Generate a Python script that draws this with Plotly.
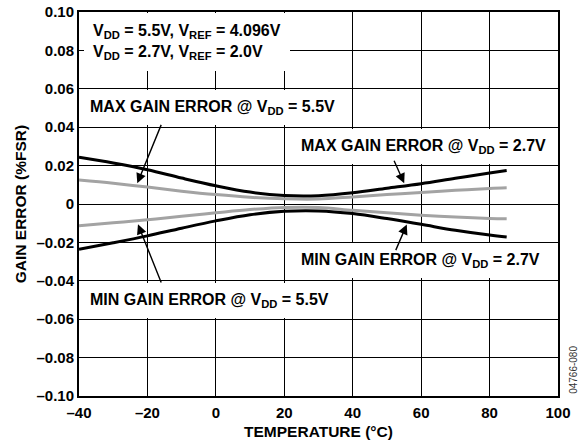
import plotly.graph_objects as go

# ---- data ----
temperature = [-40, -30, -20, -10, 0, 10, 20, 30, 40, 50, 60, 70, 80, 85]
max_err_2v7 = [0.0243, 0.0213, 0.0178, 0.0135, 0.0095, 0.0062, 0.0044, 0.0043,
               0.0058, 0.0082, 0.0106, 0.0134, 0.0161, 0.0174]
max_err_5v5 = [0.0125, 0.0108, 0.0088, 0.0067, 0.0049, 0.0035, 0.0027, 0.0026,
               0.0037, 0.0049, 0.0060, 0.0071, 0.0081, 0.0084]
min_err_5v5 = [-0.0113, -0.0098, -0.0082, -0.0064, -0.0046, -0.0029, -0.0018, -0.0018,
               -0.0033, -0.0046, -0.0058, -0.0068, -0.0075, -0.0077]
min_err_2v7 = [-0.0236, -0.0202, -0.0166, -0.0126, -0.0088, -0.0056, -0.0038, -0.0036,
               -0.0050, -0.0076, -0.0106, -0.0137, -0.0162, -0.0172]

x_tickvals = [-40, -20, 0, 20, 40, 60, 80, 100]
x_ticktext = ["–40", "–20", "0", "20", "40", "60", "80", "100"]
y_tickvals = [-0.10, -0.08, -0.06, -0.04, -0.02, 0, 0.02, 0.04, 0.06, 0.08, 0.10]
y_ticktext = ["–0.10", "–0.08", "–0.06", "–0.04", "–0.02", "0",
              "0.02", "0.04", "0.06", "0.08", "0.10"]

FONT = "Liberation Sans, Arial, Helvetica, sans-serif"
BLACK = "#000000"
GRAY = "#a3a3a3"

fig = go.Figure()
for ys, col in [(max_err_5v5, GRAY), (min_err_5v5, GRAY),
                (max_err_2v7, BLACK), (min_err_2v7, BLACK)]:
    fig.add_trace(go.Scatter(x=temperature, y=ys, mode="lines",
                             line=dict(color=col, width=3, shape="spline", smoothing=1),
                             showlegend=False, hoverinfo="skip"))

axis_common = dict(showline=True, mirror=True, linecolor=BLACK, linewidth=2,
                   showgrid=True, gridcolor=BLACK, gridwidth=1.2, zeroline=False,
                   automargin=False, ticks="",
                   tickfont=dict(family=FONT, size=15, color=BLACK, weight=700))

fig.update_xaxes(range=[-40, 100], tickvals=x_tickvals, ticktext=x_ticktext,
                 title=dict(text="TEMPERATURE (°C)", standoff=6,
                            font=dict(family=FONT, size=15.5, color=BLACK, weight=700)),
                 ticklabelstandoff=2,
                 **axis_common)
fig.update_yaxes(range=[-0.10, 0.10], tickvals=y_tickvals, ticktext=y_ticktext,
                 title=dict(text="GAIN ERROR (%FSR)", standoff=6,
                            font=dict(family=FONT, size=15.5, color=BLACK, weight=700)),
                 **axis_common)

ann_font = dict(family=FONT, size=16, color=BLACK, weight=700)
labels = [
    ("V<sub>DD</sub> = 5.5V, V<sub>REF</sub> = 4.096V<br>V<sub>DD</sub> = 2.7V, V<sub>REF</sub> = 2.0V",
     -38.6, 0.0845, 9),
    ("MAX GAIN ERROR @ V<sub>DD</sub> = 5.5V", -39.1, 0.0505, 8),
    ("MAX GAIN ERROR @ V<sub>DD</sub> = 2.7V", 22.5, 0.0302, 8),
    ("MIN GAIN ERROR @ V<sub>DD</sub> = 2.7V", 22.5, -0.0292, 8),
    ("MIN GAIN ERROR @ V<sub>DD</sub> = 5.5V", -39.1, -0.0504, 8),
]
for txt, x, y, pad in labels:
    fig.add_annotation(x=x, y=y, xref="x", yref="y", text=txt, showarrow=False,
                       xanchor="left", yanchor="middle", align="left",
                       font=ann_font, bgcolor="white", borderpad=pad, borderwidth=0)

arrows = [  # (tail x, tail y, tip x, tip y)
    (-15.8, 0.0420, -22.96, 0.0108),
    (-15.8, -0.0417, -22.76, -0.0106),
    (51.9, 0.0233, 55.05, 0.0108),
    (52.4, -0.0248, 55.8, -0.0107),
]
for ax, ay, x, y in arrows:
    fig.add_annotation(x=x, y=y, ax=ax, ay=ay, xref="x", yref="y", axref="x", ayref="y",
                       text="", showarrow=True, arrowhead=2, arrowsize=1.4,
                       arrowwidth=1.4, arrowcolor=BLACK, standoff=0, startstandoff=0)

fig.add_annotation(x=1.031, y=0.0, xref="paper", yref="paper", text="04766-080",
                   showarrow=False, textangle=-90, xanchor="center", yanchor="bottom",
                   font=dict(family=FONT, size=10, color="#333333"))

fig.update_layout(width=585, height=446, margin=dict(l=79, r=27, t=12, b=50),
                  paper_bgcolor="white", plot_bgcolor="white",
                  font=dict(family=FONT, color=BLACK))

fig.write_html("out.html", config={"displayModeBar": False},
               post_script="document.body.style.margin='0';document.body.style.overflow='hidden';")
